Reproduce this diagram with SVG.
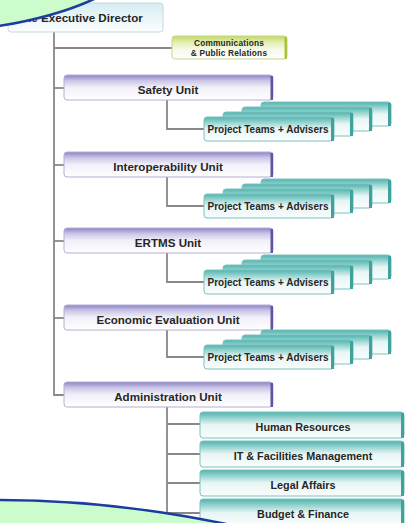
<svg xmlns="http://www.w3.org/2000/svg" width="406" height="523" viewBox="0 0 406 523">
<defs>
<linearGradient id="gUnit" x1="0" y1="0" x2="0" y2="1">
<stop offset="0" stop-color="#8a82c6"/>
<stop offset="0.22" stop-color="#c9c4e6"/>
<stop offset="0.5" stop-color="#f1f0f9"/>
<stop offset="1" stop-color="#ffffff"/>
</linearGradient>
<linearGradient id="gTeal" x1="0" y1="0" x2="0" y2="1">
<stop offset="0" stop-color="#4fb3ae"/>
<stop offset="0.22" stop-color="#93d2ce"/>
<stop offset="0.5" stop-color="#e8f6f5"/>
<stop offset="1" stop-color="#f9fdfd"/>
</linearGradient>
<linearGradient id="gComm" x1="0" y1="0" x2="0" y2="1">
<stop offset="0" stop-color="#c2da62"/>
<stop offset="0.3" stop-color="#e4efb8"/>
<stop offset="0.6" stop-color="#f6faea"/>
<stop offset="1" stop-color="#ffffff"/>
</linearGradient>
<linearGradient id="gExec" x1="0" y1="0" x2="0" y2="1">
<stop offset="0" stop-color="#d4ecf0"/>
<stop offset="0.5" stop-color="#eaf6f8"/>
<stop offset="1" stop-color="#fafdfd"/>
</linearGradient>
<g id="team">
<rect x="0" y="0" width="130" height="24" rx="3" fill="url(#gTeal)" stroke="#7cc2be" stroke-width="1"/>
<rect x="127" y="1" width="3" height="23" fill="#3fa29d"/>
</g>
</defs>
<style>
.conn{fill:none;stroke:#888;stroke-width:1.8}
.unit{fill:url(#gUnit);stroke:#b4b0d0;stroke-width:1}
.uedge{fill:#5f55a2}
.sub{fill:url(#gTeal);stroke:#7cc2be;stroke-width:1}
.sedge{fill:#3fa29d}
text{font-family:"Liberation Sans",Arial,sans-serif;font-weight:bold;fill:#262626;text-anchor:middle}
.tu{font-size:11.6px}
.tt{font-size:10px}
.ts{font-size:10.8px}
.tc{font-size:8.3px;letter-spacing:0.2px}
</style>

<g id="connectors">
<path class="conn" d="M54,32 V395 H64"/>
<path class="conn" d="M54,48 H172"/>
<path class="conn" d="M54,88 H64"/>
<path class="conn" d="M54,165 H64"/>
<path class="conn" d="M54,241 H64"/>
<path class="conn" d="M54,318 H64"/>
<path class="conn" d="M167,100 V129 H204"/>
<path class="conn" d="M167,177 V206 H204"/>
<path class="conn" d="M167,253 V282 H204"/>
<path class="conn" d="M167,330 V357 H204"/>
<path class="conn" d="M167,407 V513 H200"/>
<path class="conn" d="M167,424 H200"/>
<path class="conn" d="M167,454 H200"/>
<path class="conn" d="M167,483 H200"/>
</g>

<g id="exec">
<rect x="8" y="3" width="155" height="29" rx="3" fill="url(#gExec)" stroke="#c6dade" stroke-width="1"/>
<text class="tu" x="80" y="22">The Executive Director</text>
</g>

<g id="comm">
<rect x="172" y="36" width="115" height="23" rx="3" fill="url(#gComm)" stroke="#c6d68a" stroke-width="1"/>
<rect x="284.5" y="37" width="2.5" height="22" fill="#a9c23c"/>
<text class="tc" x="229" y="46">Communications</text>
<text class="tc" x="229" y="56">&amp; Public Relations</text>
</g>

<g id="safety">
<rect class="unit" x="64" y="75" width="209" height="25" rx="3"/>
<rect class="uedge" x="270.5" y="76" width="2.5" height="24"/>
<text class="tu" x="168" y="94">Safety Unit</text>
</g>
<g id="safety-teams">
<use href="#team" x="261" y="102"/>
<use href="#team" x="242" y="107"/>
<use href="#team" x="223" y="112"/>
<use href="#team" x="204" y="117"/>
<text class="tt" x="268" y="133">Project Teams + Advisers</text>
</g>

<g id="interop">
<rect class="unit" x="64" y="152" width="209" height="25" rx="3"/>
<rect class="uedge" x="270.5" y="153" width="2.5" height="24"/>
<text class="tu" x="168" y="171">Interoperability Unit</text>
</g>
<g id="interop-teams">
<use href="#team" x="261" y="179"/>
<use href="#team" x="242" y="184"/>
<use href="#team" x="223" y="189"/>
<use href="#team" x="204" y="194"/>
<text class="tt" x="268" y="210">Project Teams + Advisers</text>
</g>

<g id="ertms">
<rect class="unit" x="64" y="228" width="209" height="25" rx="3"/>
<rect class="uedge" x="270.5" y="229" width="2.5" height="24"/>
<text class="tu" x="168" y="247">ERTMS Unit</text>
</g>
<g id="ertms-teams">
<use href="#team" x="261" y="255"/>
<use href="#team" x="242" y="260"/>
<use href="#team" x="223" y="265"/>
<use href="#team" x="204" y="270"/>
<text class="tt" x="268" y="286">Project Teams + Advisers</text>
</g>

<g id="econ">
<rect class="unit" x="64" y="305" width="209" height="25" rx="3"/>
<rect class="uedge" x="270.5" y="306" width="2.5" height="24"/>
<text class="tu" x="168" y="324">Economic Evaluation Unit</text>
</g>
<g id="econ-teams">
<use href="#team" x="261" y="330"/>
<use href="#team" x="242" y="335"/>
<use href="#team" x="223" y="340"/>
<use href="#team" x="204" y="345"/>
<text class="tt" x="268" y="361">Project Teams + Advisers</text>
</g>

<g id="admin">
<rect class="unit" x="64" y="382" width="209" height="25" rx="3"/>
<rect class="uedge" x="270.5" y="383" width="2.5" height="24"/>
<text class="tu" x="168" y="401">Administration Unit</text>
</g>

<g id="hr">
<rect class="sub" x="200" y="412" width="204" height="26" rx="3"/>
<rect class="sedge" x="401" y="413" width="3" height="25"/>
<text class="ts" x="303" y="431">Human Resources</text>
</g>
<g id="it">
<rect class="sub" x="200" y="441" width="204" height="26" rx="3"/>
<rect class="sedge" x="401" y="442" width="3" height="25"/>
<text class="ts" x="303" y="460">IT &amp; Facilities Management</text>
</g>
<g id="legal">
<rect class="sub" x="200" y="470" width="204" height="26" rx="3"/>
<rect class="sedge" x="401" y="471" width="3" height="25"/>
<text class="ts" x="303" y="489">Legal Affairs</text>
</g>
<g id="budget">
<rect class="sub" x="200" y="499" width="204" height="28" rx="3"/>
<rect class="sedge" x="401" y="500" width="3" height="27"/>
<text class="ts" x="303" y="518">Budget &amp; Finance</text>
</g>

<g id="corner-top">
<path d="M0,0 H94 Q55,17 0,26 Z" fill="#ccfccc"/>
<path d="M94,-1 Q55,17 -1,26" fill="none" stroke="#1c3c9e" stroke-width="2.5"/>
</g>
<g id="corner-bottom">
<path d="M0,500 Q110,500 226,524 L0,524 Z" fill="#ccfccc"/>
<path d="M-1,500 Q110,500 226,524" fill="none" stroke="#1c3c9e" stroke-width="2.5"/>
</g>
</svg>
